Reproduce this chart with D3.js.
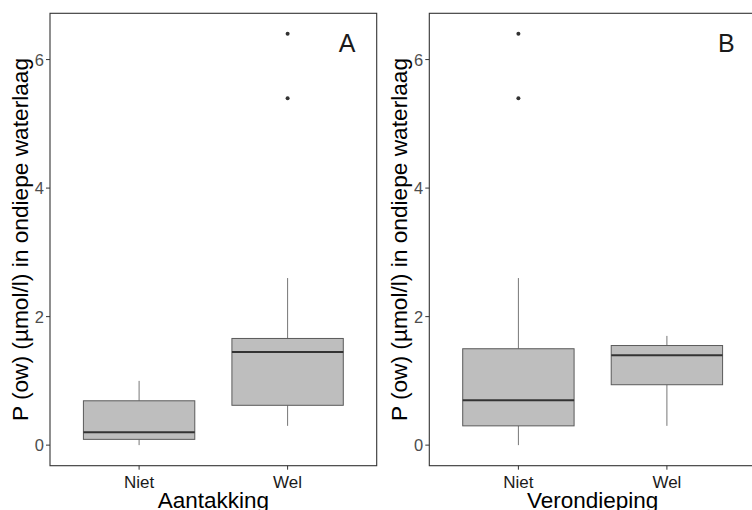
<!DOCTYPE html>
<html><head><meta charset="utf-8">
<script src="https://cdn.jsdelivr.net/npm/d3@7"></script>
<style>body{margin:0;background:#fff}svg{display:block}</style>
</head><body>
<script>
// Data
const categories = ["Niet", "Wel"];
const panelLabels = ["A", "B"];
const xTitles = ["Aantakking", "Verondieping"];
const yTitle = "P (ow) (µmol/l) in ondiepe waterlaag";
const yTicks = [0, 2, 4, 6];
// box stats: [whiskerLow, q1, median, q3, whiskerHigh]
const statsA = [[0.0, 0.09, 0.2, 0.69, 1.0], [0.3, 0.62, 1.45, 1.66, 2.6]];
const outliersA = [[], [5.4, 6.4]];
const statsB = [[0.0, 0.3, 0.7, 1.5, 2.6], [0.3, 0.94, 1.4, 1.55, 1.7]];
const outliersB = [[5.4, 6.4], []];

const W = 752, H = 510;
const svg = d3.select("body").append("svg").attr("width", W).attr("height", H);

const panels = [
  {left: 50, stats: statsA, outliers: outliersA, label: panelLabels[0], xTitle: xTitles[0]},
  {left: 429.3, stats: statsB, outliers: outliersB, label: panelLabels[1], xTitle: xTitles[1]}
];
const pTop = 13.3, pBottom = 465.7, pw = 326.7;
const FONT = "Liberation Sans, Arial, sans-serif";

const y = d3.scaleLinear().domain([-0.32, 6.72]).range([pBottom, pTop]);

panels.forEach(p => {
  const g = svg.append("g");
  // discrete axis with 0.6 expansion: category i at position i+1 in [0.4, 2.6]
  const xpos = d3.scaleLinear().domain([0.4, 2.6]).range([p.left, p.left + pw]);
  const cx = c => xpos(categories.indexOf(c) + 1);
  const bw = xpos(1.375) - xpos(0.625);

  categories.forEach((c, i) => {
    const s = p.stats[i];
    const xc = cx(c);
    g.append("line").attr("x1", xc).attr("x2", xc).attr("y1", y(s[3])).attr("y2", y(s[4]))
      .attr("stroke", "#777").attr("stroke-width", 1);
    g.append("line").attr("x1", xc).attr("x2", xc).attr("y1", y(s[0])).attr("y2", y(s[1]))
      .attr("stroke", "#777").attr("stroke-width", 1);
    g.append("rect").attr("x", xc - bw / 2).attr("width", bw)
      .attr("y", y(s[3])).attr("height", y(s[1]) - y(s[3]))
      .attr("fill", "#BEBEBE").attr("stroke", "#5a5a5a").attr("stroke-width", 1);
    g.append("line").attr("x1", xc - bw / 2).attr("x2", xc + bw / 2).attr("y1", y(s[2])).attr("y2", y(s[2]))
      .attr("stroke", "#333").attr("stroke-width", 2);
    p.outliers[i].forEach(v => {
      g.append("circle").attr("cx", xc).attr("cy", y(v)).attr("r", 2).attr("fill", "#333");
    });
    g.append("line").attr("x1", xc).attr("x2", xc).attr("y1", pBottom).attr("y2", pBottom + 4)
      .attr("stroke", "#333").attr("stroke-width", 1);
    g.append("text").attr("x", xc).attr("y", 487.5).attr("text-anchor", "middle")
      .attr("font-family", FONT).attr("font-size", 17)
      .attr("fill", "#1a1a1a").text(c);
  });

  // panel border
  g.append("rect").attr("x", p.left).attr("y", pTop).attr("width", pw).attr("height", pBottom - pTop)
    .attr("fill", "none").attr("stroke", "#333").attr("stroke-width", 1.1);

  yTicks.forEach(t => {
    g.append("line").attr("x1", p.left - 4).attr("x2", p.left).attr("y1", y(t)).attr("y2", y(t))
      .attr("stroke", "#333").attr("stroke-width", 1);
    g.append("text").attr("x", p.left - 6).attr("y", y(t)).attr("dy", "0.36em").attr("text-anchor", "end")
      .attr("font-family", FONT).attr("font-size", 16.5)
      .attr("fill", "#4D4D4D").text(t);
  });

  g.append("text").attr("transform", `translate(${p.left - 22},${(pTop + pBottom) / 2}) rotate(-90)`)
    .attr("text-anchor", "middle").attr("font-family", FONT)
    .attr("font-size", 22.7).attr("fill", "#000").text(yTitle);

  g.append("text").attr("x", p.left + pw / 2).attr("y", 508).attr("text-anchor", "middle")
    .attr("font-family", FONT).attr("font-size", 22.5)
    .attr("fill", "#000").text(p.xTitle);

  g.append("text").attr("x", xpos(2.4)).attr("y", 51.5).attr("text-anchor", "middle")
    .attr("font-family", FONT).attr("font-size", 25)
    .attr("fill", "#1a1a1a").text(p.label);
});
</script>
</body></html>
